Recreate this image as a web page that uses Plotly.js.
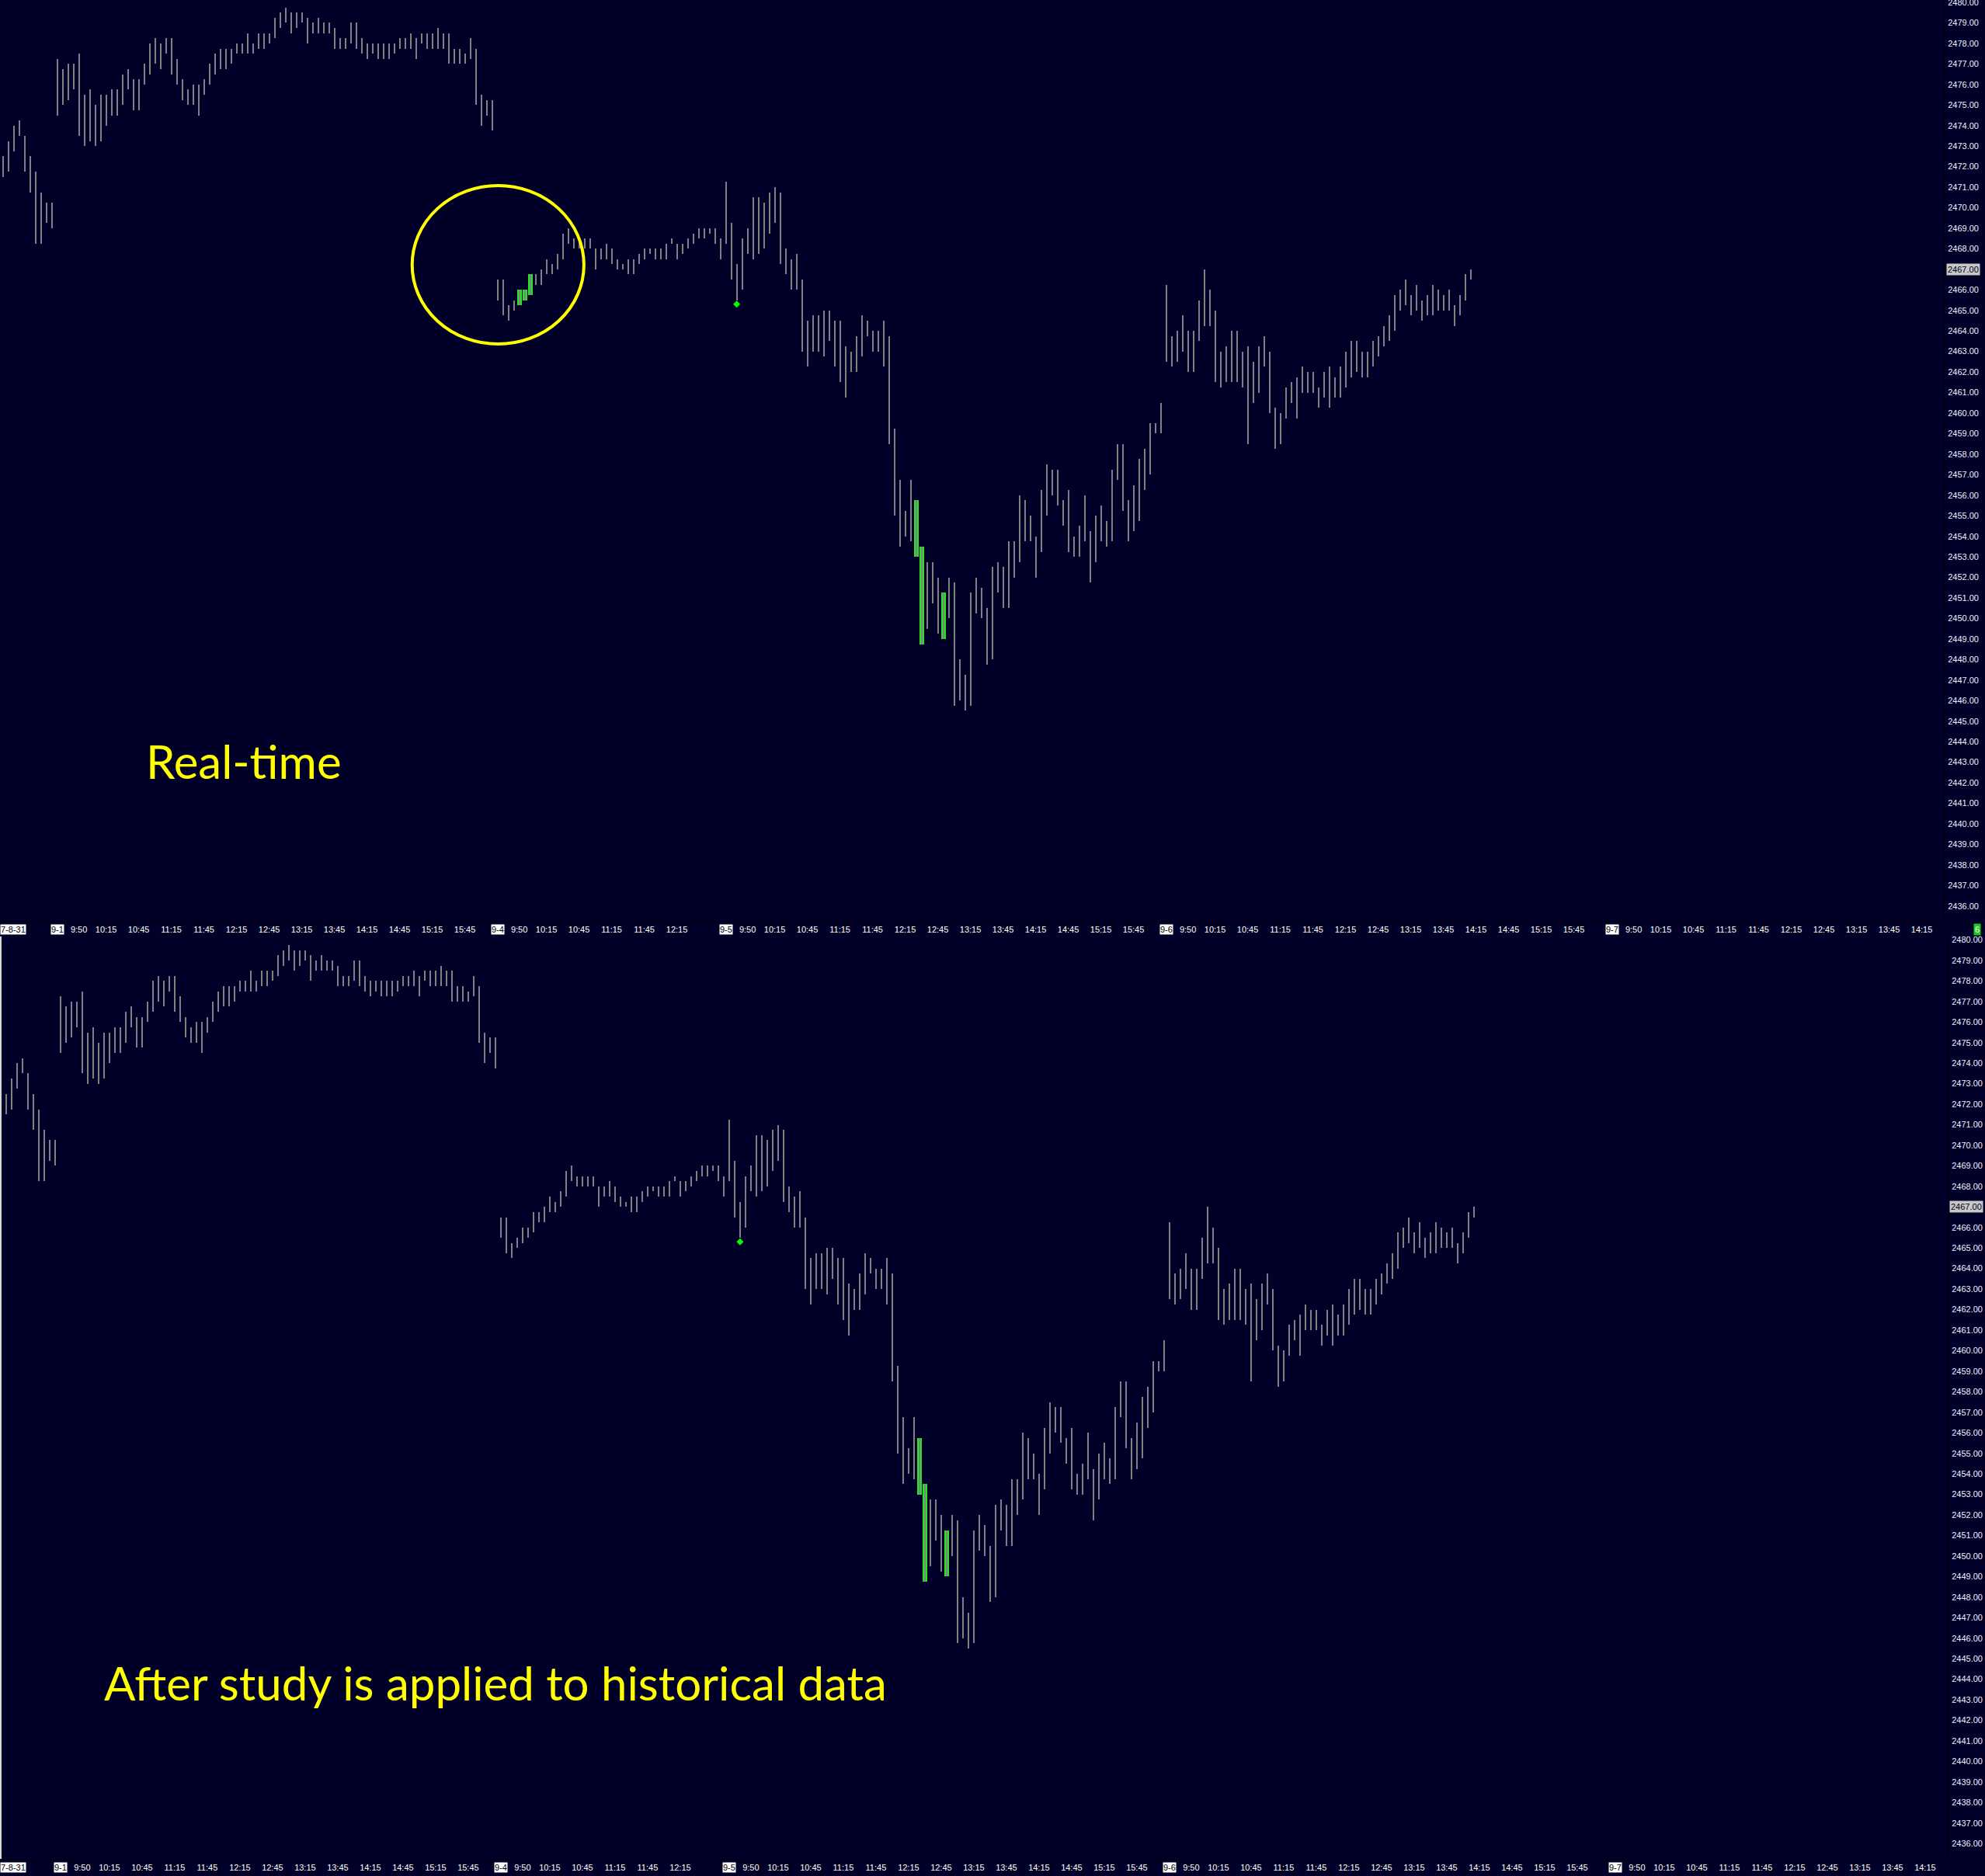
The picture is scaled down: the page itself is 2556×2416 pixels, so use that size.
<!DOCTYPE html>
<html><head><meta charset="utf-8">
<script src="https://cdn.plot.ly/plotly-3.0.1.min.js"></script>
<style>html,body{margin:0;padding:0;background:#000028;overflow:hidden}</style>
</head><body>
<div id="chart" style="width:2556px;height:2416px"></div>
<script>
// ---- Data: 5-minute ES bars, 8-31 (tail), 9-1, 9-4, 9-5, 9-6 ----
const barHigh = [
 2472.5,2473.25,2474.0,2474.25,2473.5,2472.5,2471.75,2470.75,2470.25,2470.25,
 2477.25,2476.75,2477.0,2477.0,2477.5,2475.5,2475.75,2475.0,2475.5,2475.5,
 2475.75,2475.75,2476.5,2476.75,2476.25,2476.25,2477.0,2478.0,2478.25,2478.0,
 2478.25,2478.25,2477.25,2476.25,2475.75,2476.0,2476.0,2476.25,2477.0,2477.5,
 2477.75,2477.75,2477.75,2478.0,2478.0,2478.5,2478.0,2478.5,2478.5,2478.5,
 2479.25,2479.5,2479.75,2479.5,2479.5,2479.5,2479.25,2479.0,2479.25,2479.0,
 2479.0,2478.75,2478.25,2478.25,2479.0,2479.0,2478.25,2478.0,2478.0,2478.0,
 2478.0,2478.0,2478.0,2478.25,2478.25,2478.5,2478.25,2478.5,2478.5,2478.5,
 2478.75,2478.5,2478.5,2477.75,2477.75,2477.5,2478.25,2477.75,2475.5,2475.25,
 2475.25,
 2466.5,2466.5,2465.25,2465.5,2466.0,2466.0,2466.75,2466.75,2467.0,
 2467.5,2467.25,2467.75,2468.75,2469.0,2468.5,2468.5,2468.5,2468.5,2468.0,
 2468.0,2468.25,2468.0,2467.5,2467.25,2467.5,2467.5,2467.75,2468.0,2468.0,
 2468.0,2468.0,2468.25,2468.5,2468.25,2468.25,2468.5,2468.75,2469.0,2469.0,
 2469.0,2469.0,2468.5,
 2471.25,2469.25,2467.25,2468.5,2469.0,2470.5,2470.5,
 2470.25,2470.75,2471.0,2470.75,2468.0,2467.5,2467.75,2466.5,2464.5,2464.75,
 2464.75,2465.0,2465.0,2464.5,2464.5,2463.25,2463.0,2463.75,2464.75,2464.5,
 2464.0,2464.0,2464.5,2463.75,2459.25,2456.75,2455.25,2456.75,2455.75,2453.5,
 2452.75,2452.75,2452.0,2451.25,2452.0,2451.75,2448.0,2447.25,2451.25,2452.0,
 2451.5,2450.5,2452.5,2452.75,2452.5,2453.75,2453.75,2456.0,2455.75,2455.0,
 2454.0,2456.25,2457.5,2457.25,2457.25,2455.75,2456.25,2454.0,2454.5,2456.0,
 2454.25,2455.0,2455.5,2454.75,2457.25,2458.5,2458.5,2455.75,2456.5,2457.75,
 2458.25,2459.5,2459.5,2460.5,
 2466.25,2463.75,2464.0,2464.75,2464.0,2464.0,2465.5,2467.0,2466.0,2465.0,
 2463.0,2463.25,2464.0,2464.0,2463.0,2463.25,2462.5,2463.25,2463.75,2463.0,
 2460.25,2460.0,2461.25,2461.5,2461.75,2462.25,2462.0,2462.0,2461.25,2462.0,
 2462.25,2461.75,2462.25,2463.0,2463.5,2463.5,2463.0,2463.0,2463.5,2463.75,
 2464.25,2464.75,2465.75,2466.0,2466.5,2465.75,2466.25,2465.5,2465.75,2466.25,
 2466.0,2465.75,2466.0,2465.25,2465.75,2466.75,2467.0
];
const barLow = [
 2471.5,2471.75,2472.75,2473.5,2471.75,2470.75,2468.25,2468.25,2469.25,2469.0,
 2474.5,2475.0,2475.25,2475.75,2473.5,2473.0,2473.25,2473.0,2473.25,2474.0,
 2474.5,2474.5,2475.0,2475.75,2474.75,2474.75,2476.0,2476.5,2477.0,2476.75,
 2477.5,2476.5,2476.0,2475.25,2475.0,2475.0,2474.5,2475.5,2476.0,2476.5,
 2476.75,2476.75,2477.0,2477.5,2477.5,2477.5,2477.5,2477.75,2477.75,2478.0,
 2478.25,2478.75,2479.0,2478.5,2478.75,2479.0,2478.0,2478.5,2478.5,2478.5,
 2478.5,2477.75,2477.75,2477.75,2478.0,2477.75,2477.5,2477.25,2477.5,2477.25,
 2477.25,2477.25,2477.5,2477.75,2477.75,2477.75,2477.25,2478.0,2477.75,2477.75,
 2477.75,2477.75,2477.0,2477.0,2477.0,2477.0,2477.25,2475.0,2474.0,2474.5,
 2473.75,
 2465.5,2464.75,2464.5,2465.0,2465.25,2465.5,2465.75,2466.25,2466.25,
 2466.75,2466.75,2467.0,2467.5,2468.25,2468.0,2468.0,2468.0,2468.0,2467.0,
 2467.5,2467.5,2467.25,2467.0,2467.0,2466.75,2466.75,2467.25,2467.5,2467.75,
 2467.5,2467.5,2467.5,2468.25,2467.5,2467.75,2468.0,2468.25,2468.5,2468.5,
 2468.75,2468.25,2467.5,
 2468.25,2466.5,2465.5,2466.0,2467.75,2467.5,2467.75,
 2468.0,2468.75,2469.25,2467.25,2466.75,2466.0,2466.0,2463.0,2462.25,2463.0,
 2463.0,2462.75,2463.5,2462.25,2461.5,2460.75,2462.0,2462.0,2462.75,2463.75,
 2463.0,2463.0,2462.25,2458.5,2455.0,2453.5,2454.0,2453.75,2453.0,2448.75,
 2449.5,2450.75,2449.25,2449.0,2450.0,2445.75,2446.0,2445.5,2445.75,2450.25,
 2450.0,2447.75,2448.0,2451.25,2450.5,2450.5,2452.0,2452.75,2453.75,2453.75,
 2452.0,2453.25,2455.0,2456.0,2455.5,2454.5,2453.25,2453.0,2453.0,2453.75,
 2451.75,2452.75,2453.75,2453.5,2453.75,2456.75,2455.25,2453.75,2454.25,2454.75,
 2456.25,2457.0,2459.0,2459.0,
 2462.5,2462.25,2462.5,2463.0,2462.0,2462.0,2463.5,2464.25,2464.25,2461.5,
 2461.25,2461.5,2461.5,2461.5,2461.25,2458.5,2460.5,2461.0,2462.25,2460.0,
 2458.25,2458.5,2459.75,2460.5,2459.75,2461.0,2461.0,2461.0,2460.25,2460.75,
 2460.25,2460.75,2460.75,2461.25,2461.75,2462.0,2461.75,2461.75,2462.25,2462.75,
 2463.25,2463.5,2464.0,2465.0,2465.25,2464.75,2465.0,2464.5,2464.75,2464.75,
 2465.0,2465.0,2465.0,2464.25,2464.75,2465.5,2466.5
];
// highlighted (green) bars
const greenRealtime = [95, 96, 97, 168, 169, 173];
const greenHistorical = [168, 169, 173];
// signal dot
const signalIdx = [135];
const signalPrice = [2465.3];
const lastPriceText = '2467.00';
const lastPrice = 2467.0;

// session date labels
const sessionDates = ['9-1', '9-4', '9-5', '9-6', '9-7'];
const sessionStartIdx = [10, 91, 133, 214, 296];
const leftDateLabel = '7-8-31';

// time tick labels (bar index -> text)
const tickIdx = [
 14,19,25,31,37,43,49,55,61,67,73,79,85,
 95,100,106,112,118,124,
 137,142,148,154,160,166,172,178,184,190,196,202,208,
 218,223,229,235,241,247,253,259,265,271,277,283,289,
 300,305,311,317,323,329,335,341,347,353
];
const tickText = [
 '9:50','10:15','10:45','11:15','11:45','12:15','12:45','13:15','13:45','14:15','14:45','15:15','15:45',
 '9:50','10:15','10:45','11:15','11:45','12:15',
 '9:50','10:15','10:45','11:15','11:45','12:15','12:45','13:15','13:45','14:15','14:45','15:15','15:45',
 '9:50','10:15','10:45','11:15','11:45','12:15','12:45','13:15','13:45','14:15','14:45','15:15','15:45',
 '9:50','10:15','10:45','11:15','11:45','12:15','12:45','13:15','13:45','14:15'
];

// ---- build ----
const W = 2556, H = 2416;
const BG = '#000028';
const BAR = '#808080';
const GREEN = '#22E622';
const AXFONT = 'Liberation Sans, Arial, sans-serif';
const idx = barHigh.map((_, i) => i);
const span = barHigh.map((h, i) => h - barLow[i]);

function panelTraces(xa, ya, greens) {
  return [
    {type:'bar', x: greens, y: greens.map(i => span[i]), base: greens.map(i => barLow[i]),
     width: 0.88, marker:{color: GREEN, line:{width:0}}, xaxis: xa, yaxis: ya, hoverinfo:'skip'},
    {type:'bar', x: idx, y: span, base: barLow, width: 0.29,
     marker:{color: BAR, line:{width:0}}, xaxis: xa, yaxis: ya, hoverinfo:'skip'},
    {type:'scatter', mode:'markers', x: signalIdx, y: signalPrice,
     marker:{symbol:'diamond', size:7, color:'#00FF00'}, xaxis: xa, yaxis: ya, hoverinfo:'skip'}
  ];
}

const data = [].concat(panelTraces('x', 'y', greenRealtime), panelTraces('x2', 'y2', greenHistorical));

function xAxis(domain, range, anchor) {
  return {domain, range, anchor, tickmode:'array', tickvals: tickIdx, ticktext: tickText,
    showgrid:false, zeroline:false, ticks:'', showline:true, linecolor:'#000000', linewidth:1,
    ticklabeloverflow:'allow',
    tickfont:{family: AXFONT, size:11, color:'#FFFFF0'}, fixedrange:true};
}
function yAxis(domain, range, anchor) {
  return {domain, range, anchor, side:'right', tickmode:'linear', tick0:2436, dtick:1,
    tickformat:'.2f', showgrid:false, zeroline:false, ticks:'outside', ticklen:2, tickcolor:BG,
    showline:true, linecolor:'#000000', linewidth:1, ticklabeloverflow:'allow',
    tickfont:{family: AXFONT, size:11, color:'#EEF0FF'}, fixedrange:true};
}

const topLabelY = 1 - 1197 / H;
const botLabelY = 1 - 2405 / H;

const annotations = [];
function dateLabels(xref, y) {
  sessionDates.forEach((d, k) => {
    annotations.push({xref, yref:'paper', x: sessionStartIdx[k], y, text: d, showarrow:false,
      xanchor:'center', yanchor:'middle', bgcolor:'#FFFFFF', borderpad:0,
      font:{family: AXFONT, size:11, color:'#000000'}});
  });
  annotations.push({xref:'paper', yref:'paper', x: 0, y, text: leftDateLabel, showarrow:false,
    xanchor:'left', yanchor:'middle', bgcolor:'#FFFFFF', borderpad:0,
    font:{family: AXFONT, size:11, color:'#000000'}});
}
dateLabels('x', topLabelY);
dateLabels('x2', botLabelY);

// current price markers
annotations.push({xref:'paper', yref:'y', x: 2506/W, y: lastPrice, text: lastPriceText, showarrow:false,
  xanchor:'left', yanchor:'middle', bgcolor:'#C8C8C8', borderpad:1,
  font:{family: AXFONT, size:11, color:'#000020'}});
annotations.push({xref:'paper', yref:'y2', x: 2510/W, y: lastPrice, text: lastPriceText, showarrow:false,
  xanchor:'left', yanchor:'middle', bgcolor:'#C8C8C8', borderpad:1,
  font:{family: AXFONT, size:11, color:'#000020'}});
// green counter box
annotations.push({xref:'paper', yref:'paper', x: 2545.5/W, y: topLabelY, text:'6', showarrow:false,
  xanchor:'center', yanchor:'middle', bgcolor:'#1EC81E', borderpad:1,
  font:{family: AXFONT, size:11, color:'#FFFFFF'}});

// captions
annotations.push({xref:'paper', yref:'paper', x: 186/W, y: 1 - 980/H, text:'Real-time', showarrow:false,
  xanchor:'left', yanchor:'middle', font:{family:'Lato, Open Sans, sans-serif', size:60, color:'#FFFF00'}});
annotations.push({xref:'paper', yref:'paper', x: 132/W, y: 1 - 2167/H, text:'After study is applied to historical data', showarrow:false,
  xanchor:'left', yanchor:'middle', font:{family:'Lato, Open Sans, sans-serif', size:60, color:'#FFFF00'}});

// highlight circle around the real-time green bars (in data units)
const circleCenterIdx = 91.1, circleCenterPrice = 2467.22, circleRIdx = 15.8, circleRPrice = 3.86;
const shapes = [
  {type:'circle', xref:'x', yref:'y',
   x0: circleCenterIdx - circleRIdx, x1: circleCenterIdx + circleRIdx,
   y0: circleCenterPrice - circleRPrice, y1: circleCenterPrice + circleRPrice,
   line:{color:'#FFFF00', width:4}},
  {type:'line', xref:'paper', yref:'paper', x0: 1/W, x1: 1/W, y0: 1 - 2394/H, y1: 1 - 1206/H,
   line:{color:'#D8D8D8', width:2}}
];

const layout = {
  width: W, height: H, margin:{l:0, r:0, t:0, b:0, pad:0},
  paper_bgcolor: BG, plot_bgcolor: BG, showlegend:false,
  barmode:'overlay', bargap:0,
  xaxis: xAxis([0, 2503/W], [-0.514, 357.06], 'y'),
  yaxis: yAxis([1 - 1187/H, 1], [2435.233, 2480.115], 'x'),
  xaxis2: xAxis([0, 2508/W], [-1.129, 357.157], 'y2'),
  yaxis2: yAxis([1 - 2394.5/H, 1 - 1207.5/H], [2435.231, 2480.113], 'x2'),
  annotations, shapes
};

Plotly.newPlot('chart', data, layout, {staticPlot:true, displayModeBar:false});
</script>
</body></html>
